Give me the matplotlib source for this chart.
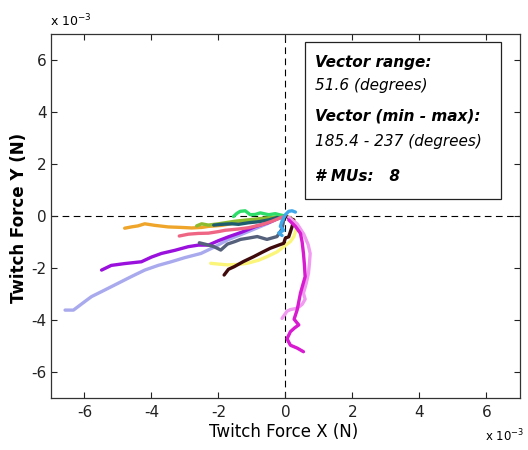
import matplotlib.pyplot as plt
import matplotlib.patches as mpatches

plt.rcParams['font.family'] = ['DejaVu Sans']
plt.rcParams['axes.unicode_minus'] = False

# twitch force traces, units of 1e-3 N
orange_x = [-4.8, -4.6, -4.4, -4.2, -3.9, -3.5, -3.1, -2.8, -2.5, -2.3, -1.9, -1.5, -1.1, -0.76, -0.4, -0.15, 0.0]
orange_y = [-0.47, -0.42, -0.38, -0.3, -0.36, -0.42, -0.44, -0.46, -0.44, -0.4, -0.36, -0.27, -0.22, -0.15, -0.08, -0.03, 0.0]
lime_x = [-2.65, -2.5, -2.3, -2.0, -1.5, -0.9, -0.4, 0.0]
lime_y = [-0.38, -0.3, -0.35, -0.3, -0.2, -0.12, -0.05, 0.0]
teal_x = [-2.14, -1.9, -1.6, -1.4, -1.1, -0.8, -0.5, -0.25, 0.0]
teal_y = [-0.35, -0.32, -0.3, -0.32, -0.26, -0.22, -0.15, -0.06, 0.0]
green_x = [-1.55, -1.45, -1.35, -1.2, -1.05, -0.9, -0.75, -0.5, -0.3, -0.15, 0.0]
green_y = [-0.02, 0.1, 0.18, 0.2, 0.05, 0.06, 0.12, 0.05, 0.09, 0.04, 0.0]
pink_x = [-3.17, -2.9, -2.6, -2.3, -2.0, -1.8, -1.4, -1.1, -0.7, -0.4, -0.15, 0.0]
pink_y = [-0.77, -0.7, -0.67, -0.66, -0.6, -0.55, -0.5, -0.45, -0.33, -0.2, -0.07, 0.0]
purple_x = [-5.49, -5.2, -4.8, -4.3, -4.0, -3.7, -3.3, -2.9, -2.6, -2.3, -2.0, -1.7, -1.3, -0.9, -0.5, -0.2, 0.0]
purple_y = [-2.08, -1.9, -1.83, -1.76, -1.58, -1.44, -1.32, -1.18, -1.12, -1.12, -0.95, -0.8, -0.62, -0.41, -0.25, -0.08, 0.0]
lavender_x = [-6.58, -6.33, -6.0, -5.79, -5.4, -5.0, -4.6, -4.2, -3.8, -3.41, -3.0, -2.52, -2.1, -1.73, -1.3, -0.94, -0.55, -0.25, 0.0]
lavender_y = [-3.62, -3.62, -3.3, -3.1, -2.85, -2.59, -2.33, -2.08, -1.9, -1.76, -1.6, -1.44, -1.18, -0.92, -0.7, -0.51, -0.3, -0.12, 0.0]
gray_x = [-2.57, -2.35, -2.13, -1.93, -1.73, -1.5, -1.34, -1.1, -0.84, -0.55, -0.25, -0.1, -0.05]
gray_y = [-1.03, -1.1, -1.18, -1.31, -1.08, -0.98, -0.9, -0.85, -0.79, -0.9, -0.79, -0.5, -0.15]
yellow_x = [-2.23, -2.0, -1.73, -1.4, -1.14, -0.8, -0.54, -0.25, -0.05, 0.15, 0.25, 0.35, 0.25, 0.05]
yellow_y = [-1.82, -1.85, -1.88, -1.86, -1.82, -1.7, -1.56, -1.38, -1.18, -0.98, -0.8, -0.4, -0.15, 0.0]
brown_x = [-1.83, -1.7, -1.53, -1.25, -0.94, -0.7, -0.45, -0.2, -0.05, 0.0, 0.1, 0.2, 0.25, 0.15, 0.0]
brown_y = [-2.27, -2.05, -1.95, -1.75, -1.56, -1.4, -1.24, -1.12, -1.05, -0.85, -0.8, -0.41, -0.15, -0.1, 0.0]
magenta_x = [0.1, 0.3, 0.45, 0.5, 0.54, 0.57, 0.59, 0.52, 0.45, 0.4, 0.35, 0.26, 0.4, 0.28, 0.15, 0.05, 0.1, 0.15, 0.35, 0.54]
magenta_y = [-0.15, -0.4, -0.67, -1.0, -1.44, -1.9, -2.33, -2.65, -2.97, -3.3, -3.62, -3.97, -4.19, -4.3, -4.45, -4.72, -4.85, -4.97, -5.08, -5.22]
violet_x = [0.1, 0.35, 0.55, 0.68, 0.74, 0.72, 0.69, 0.62, 0.54, 0.59, 0.5, 0.35, 0.15, 0.05, -0.1]
violet_y = [-0.05, -0.3, -0.7, -1.1, -1.44, -1.8, -2.2, -2.6, -2.97, -3.2, -3.4, -3.55, -3.6, -3.66, -3.94]
blue_x = [0.3, 0.2, 0.1, 0.0, -0.1, -0.15, -0.05, -0.2, -0.1]
blue_y = [0.15, 0.2, 0.18, 0.05, -0.2, -0.4, -0.55, -0.65, -0.75]

traces = [
    (lavender_x, lavender_y, '#a9a9ee'),
    (purple_x, purple_y, '#9a10dd'),
    (orange_x, orange_y, '#eea52a'),
    (lime_x, lime_y, '#8cbb30'),
    (teal_x, teal_y, '#1d5d6e'),
    (green_x, green_y, '#2edc6a'),
    (pink_x, pink_y, '#ee6684'),
    (gray_x, gray_y, '#55607a'),
    (yellow_x, yellow_y, '#fbf57a'),
    (brown_x, brown_y, '#3f0a0c'),
    (violet_x, violet_y, '#f09af0'),
    (magenta_x, magenta_y, '#d81ad0'),
    (blue_x, blue_y, '#3fa6ea'),
]

info_lines = [
    ('Vector range:', 'bold'),
    ('51.6 (degrees)', 'normal'),
    ('Vector (min - max):', 'bold'),
    ('185.4 - 237 (degrees)', 'normal'),
    ('# MUs:   8', 'bold'),
]
info_y = [0.943, 0.879, 0.794, 0.725, 0.629]

ticks = [-6, -4, -2, 0, 2, 4, 6]

fig = plt.figure(figsize=(5.28, 4.5), dpi=100)
ax = fig.add_axes([0.0966, 0.1156, 0.8878, 0.8088])

ax.axhline(0, color='k', lw=0.8, ls=(0, (6, 4)), zorder=1)
ax.axvline(0, color='k', lw=0.8, ls=(0, (6, 4)), zorder=1)

for x, y, c in traces:
    ax.plot(x, y, color=c, lw=2.4, solid_capstyle='round', solid_joinstyle='round', zorder=2)

ax.set_xlim(-7, 7)
ax.set_ylim(-7, 7)
ax.set_xticks(ticks)
ax.set_yticks(ticks)
ax.tick_params(direction='in', top=True, right=True, length=4, width=0.8,
               labelsize=11, colors='#222222')
ax.tick_params(axis='x', pad=5)
ax.tick_params(axis='y', pad=3)
for s in ax.spines.values():
    s.set_linewidth(0.9)
    s.set_color('#333333')

ax.set_xlabel('Twitch Force X (N)', fontsize=12)
ax.set_ylabel('Twitch Force Y (N)', fontsize=12, fontweight='bold')
ax.xaxis.set_label_coords(0.497, -0.07)
ax.yaxis.set_label_coords(-0.05, 0.495)

fig.text(0.095, 0.935, r'x 10$^{-3}$', fontsize=9, ha='left', va='bottom')
fig.text(0.918, 0.012, r'x 10$^{-3}$', fontsize=8.5, ha='left', va='bottom')

box = mpatches.Rectangle((0.5416, 0.546), 0.4194, 0.433, transform=ax.transAxes,
                         facecolor='white', edgecolor='#222222', lw=0.9, zorder=3)
ax.add_patch(box)
for (txt, w), yy in zip(info_lines, info_y):
    ax.text(0.564, yy, txt, transform=ax.transAxes, fontsize=11, fontweight=w,
            style='italic', ha='left', va='top', zorder=4)

fig.savefig('out.png', dpi=100)
